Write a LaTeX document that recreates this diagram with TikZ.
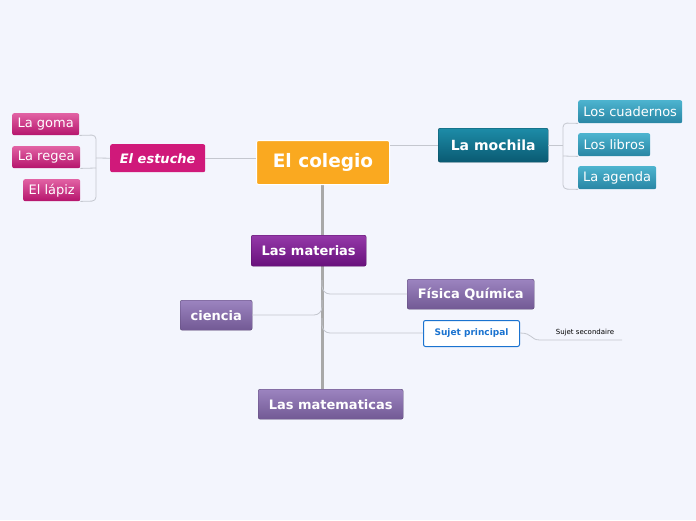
\documentclass[tikz,border=0pt]{standalone}
\usepackage{fontspec}
\setmainfont{DejaVu Sans}
\usetikzlibrary{positioning}
\definecolor{bg}{HTML}{F3F5FD}
\definecolor{orangeC}{HTML}{FAA920}
\definecolor{magC}{HTML}{D0197A}
\definecolor{pinkT}{HTML}{E262A4}
\definecolor{pinkB}{HTML}{B5146C}
\definecolor{tealT}{HTML}{1D8CA8}
\definecolor{tealB}{HTML}{0A5A72}
\definecolor{ltealT}{HTML}{4DB4CF}
\definecolor{ltealB}{HTML}{2886A4}
\definecolor{purT}{HTML}{9539A9}
\definecolor{purB}{HTML}{68107C}
\definecolor{lavT}{HTML}{9C84C0}
\definecolor{lavB}{HTML}{725994}
\definecolor{lineC}{HTML}{C4C7CF}
\definecolor{trunkC}{HTML}{A8A8A8}
\definecolor{blueC}{HTML}{1A73D0}
\tikzset{
  box/.style={rectangle, rounded corners=2pt, text=white, inner sep=0pt, anchor=north west},
  leafP/.style={box, top color=pinkT, bottom color=pinkB, font=\fontsize{13}{15}\selectfont},
  leafT/.style={box, top color=ltealT, bottom color=ltealB, font=\fontsize{13}{15}\selectfont},
  lav/.style={box, top color=lavT, bottom color=lavB, draw=lavB!80!black, font=\bfseries\fontsize{13}{15}\selectfont},
  conn/.style={draw=lineC, line width=0.8pt},
}
\begin{document}
\begin{tikzpicture}[x=1pt,y=-1pt]
\fill[bg] (0,0) rectangle (696,520);
\useasboundingbox (0,0) rectangle (696,520);
% trunk
\coordinate (t1) at (322,184);
\coordinate (t2) at (322,389);
\draw[trunkC, line width=3pt] (t1) -- (t2);
% nodes
\node[box, fill=orangeC, draw=white, line width=1pt, minimum width=133pt, minimum height=44pt, font=\bfseries\fontsize{18.5}{21}\selectfont] (col) at (256,140) {El colegio};
\node[box, fill=magC, minimum width=95pt, minimum height=28pt, font=\bfseries\itshape\fontsize{13}{15}\selectfont] (est) at (110,144) {El estuche};
\node[leafP, minimum width=67pt, minimum height=22pt] (goma) at (12,113) {La goma};
\node[leafP, minimum width=68pt, minimum height=22pt] (regea) at (12,146) {La regea};
\node[leafP, minimum width=57pt, minimum height=22pt] (lapiz) at (23,179) {El lápiz};
\node[box, top color=tealT, bottom color=tealB, draw=tealB!80!black, minimum width=110pt, minimum height=34pt, font=\bfseries\fontsize{14}{16}\selectfont] (moch) at (438,128) {La mochila};
\node[leafT, minimum width=104pt, minimum height=23pt] (cuad) at (578,100) {Los cuadernos};
\node[leafT, minimum width=72pt, minimum height=23pt] (libr) at (578,133) {Los libros};
\node[leafT, minimum width=78pt, minimum height=23pt] (agen) at (578,166) {La agenda};
\node[box, top color=purT, bottom color=purB, draw=purB!80!black, minimum width=115pt, minimum height=31pt, font=\bfseries\fontsize{13}{15}\selectfont] (mat) at (251,235) {Las materias};
\node[lav, minimum width=127pt, minimum height=30pt] (fis) at (407,279) {Física Química};
\node[lav, minimum width=72pt, minimum height=30pt] (cien) at (180,300) {ciencia};
\node[box, fill=white, draw=blueC, line width=1pt, text=blueC, minimum width=96pt, minimum height=26pt, font=\bfseries\fontsize{9}{11}\selectfont] (suj) at (423,320) {Sujet principal};
\node[anchor=south, inner sep=2pt, font=\fontsize{7}{8}\selectfont] (sec) at (585,338) {Sujet secondaire};
\node[lav, minimum width=145pt, minimum height=30pt] (mate) at (258,389) {Las matematicas};
% connectors
\draw[conn] (col.west |- est.east) -- (est.east);
\coordinate (lb) at (96,158);
\draw[conn] (est.west) -- (lb);
\draw[conn, rounded corners=4pt] (goma.south east) -- (96,135) -- (96,201) -- (lapiz.south east);
\draw[conn] (regea.south east) -- (96,168);
\draw[conn] (col.east |- 0,145) -- (moch.west |- 0,145);
\draw[conn] (moch.east |- 0,145) -- (563,145);
\draw[conn, rounded corners=4pt] (cuad.south west) -- (563,123) -- (563,189) -- (agen.south west);
\draw[conn] (libr.south west) -- (563,156);
\draw[conn, rounded corners=8pt] (322,280) -- (322,294) -- (fis.west |- 0,294);
\draw[conn, rounded corners=8pt] (322,300) -- (322,315) -- (cien.east |- 0,315);
\draw[conn, rounded corners=8pt] (322,318) -- (322,333) -- (suj.west |- 0,333);
\coordinate (s2) at (540,340);
\coordinate (s3) at (622,340);
\draw[conn] (suj.east |- 0,333) .. controls (533,333) and (530,340) .. (s2) -- (s3);
\end{tikzpicture}
\end{document}
